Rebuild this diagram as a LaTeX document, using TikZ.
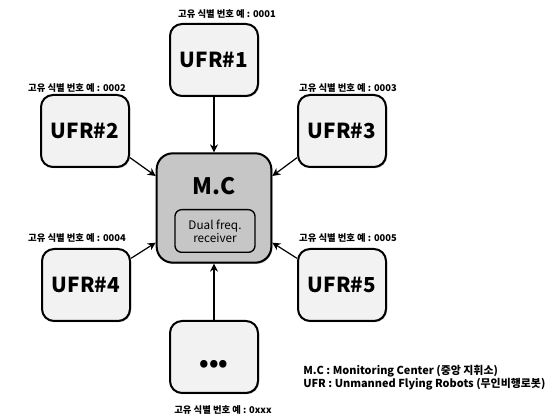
\documentclass[tikz,border=0pt]{standalone}
\usepackage{fontspec}
\setmainfont{Noto Sans CJK KR}
\usetikzlibrary{arrows.meta,shadows,calc}
\tikzset{
  ufr/.style={draw=black, line width=1.5pt, rounded corners=9pt, fill=gray!10,
    minimum width=66pt, minimum height=54pt, inner sep=0pt,
    font=\fontsize{15.5}{18}\selectfont\bfseries,
    drop shadow={shadow xshift=0.8pt, shadow yshift=-0.8pt, fill=black!60, opacity=0.6}},
  mcbox/.style={draw=black, line width=1.5pt, rounded corners=12pt, fill=gray!45,
    minimum width=86pt, minimum height=82pt, inner sep=0pt,
    drop shadow={shadow xshift=0.8pt, shadow yshift=-0.8pt, fill=black!60, opacity=0.6}},
  inner/.style={draw=black, line width=1pt, rounded corners=5pt, fill=gray!45,
    minimum width=60pt, minimum height=32pt, inner sep=1pt, align=center,
    font=\fontsize{8.8}{10}\selectfont},
  idlabel/.style={font=\fontsize{7}{8}\selectfont\bfseries, inner sep=0pt},
  conn/.style={line width=0.9pt, -{Stealth[length=6pt,width=6pt,inset=2pt]}}
}
\begin{document}
\begin{tikzpicture}[x=0.75pt,y=-0.75pt]
\useasboundingbox (0,0) rectangle (558,420);
% boxes
\node[ufr] (u1) at (214,60) {UFR\#1};
\node[ufr] (u2) at (85,131) {UFR\#2};
\node[ufr] (u3) at (342,131) {UFR\#3};
\node[ufr] (u4) at (86,285) {UFR\#4};
\node[ufr] (u5) at (342,285) {UFR\#5};
\node[ufr] (u6) at (214,357) {};
\node[font=\fontsize{18}{18}\selectfont\bfseries, inner sep=0pt] (dots) at (214,366) {\textbullet\textbullet\textbullet};
\node[mcbox] (mc) at (214,208) {};
\node[font=\fontsize{17}{20}\selectfont\bfseries, inner sep=0pt] (mct) at (214,186) {M.C};
\node[inner] (rx) at (215,231) {Dual freq.\\receiver};
% labels
\node[idlabel] (l1) at (227,14) {고유 식별 번호 예 : 0001};
\node[idlabel] (l2) at (77,88) {고유 식별 번호 예 : 0002};
\node[idlabel] (l3) at (348,88) {고유 식별 번호 예 : 0003};
\node[idlabel] (l4) at (77,238) {고유 식별 번호 예 : 0004};
\node[idlabel] (l5) at (348,238) {고유 식별 번호 예 : 0005};
\node[idlabel] (l6) at (223,410) {고유 식별 번호 예 : 0xxx};
% legend
\node[anchor=west, align=left, inner sep=0pt, font=\fontsize{8.2}{8.6}\selectfont\bfseries] (leg) at (303,378)
  {M.C : Monitoring Center (중앙 지휘소)\\UFR : Unmanned Flying Robots (무인비행로봇)};
% connectors
\draw[conn] (u1.south) -- (mc.north);
\draw[conn] (u6.north) -- (mc.south);
\draw[conn] ([yshift=-20pt]u2.east) -- ([yshift=24pt]mc.west);
\draw[conn] ([yshift=-20pt]u3.west) -- ([yshift=24pt]mc.east);
\draw[conn] ([yshift=20pt]u4.east) -- ([yshift=-26pt]mc.west);
\draw[conn] ([yshift=20pt]u5.west) -- ([yshift=-26pt]mc.east);
\end{tikzpicture}
\end{document}
